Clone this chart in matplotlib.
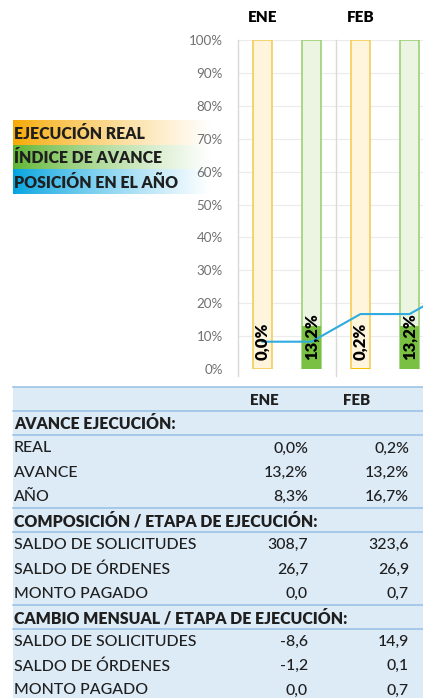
import numpy as np
import matplotlib
matplotlib.use('Agg')
import matplotlib.pyplot as plt
from matplotlib.patches import Rectangle
from matplotlib.transforms import offset_copy

plt.rcParams['font.family'] = ['Lato', 'DejaVu Sans']

# data
months = ['ENE', 'FEB']
real = [0.0, 0.2]
avance = [13.2, 13.2]
# third value is the next month, only seen as the line leaving the chart
posicion = [8.3, 16.7, 25.0]

comp_labels = ['SALDO DE SOLICITUDES', 'SALDO DE ÓRDENES', 'MONTO PAGADO']
composicion_ene = [308.7, 26.7, 0.0]
composicion_feb = [323.6, 26.9, 0.7]
cambio_ene = [-8.6, -1.2, 0.0]
cambio_feb = [14.9, 0.1, 0.7]

legend_items = ['EJECUCIÓN REAL', 'ÍNDICE DE AVANCE', 'POSICIÓN EN EL AÑO']
legend_colors = ['#F7A800', '#5DB531', '#00A3E0']

W, H = 423, 698
TXT = '#1f1f1f'


def fmt(v, pct=False):
    s = f"{v:.1f}".replace('.', ',')
    return s + '%' if pct else s


fig = plt.figure(figsize=(W / 100, H / 100), dpi=100)
fig.patch.set_facecolor('white')

# background axes in pixel coordinates for legend and table
bg = fig.add_axes([0, 0, 1, 1])
bg.set_axis_off()

# legend: text on a colour-to-white gradient
for i, (label, col) in enumerate(zip(legend_items, legend_colors)):
    rgb = np.array(matplotlib.colors.to_rgb(col))
    t = np.linspace(0, 1, 200)[:, None] ** 0.8
    grad = rgb * (1 - t) + np.ones(3) * t
    top = 121 + i * 24.3
    bg.imshow(grad[None, :, :], extent=[13, 210, top + 24.3, top], aspect='auto',
              interpolation='bilinear', zorder=1)
    bg.text(14, top + 13, label, fontsize=11.4, fontweight='heavy', color=TXT,
            ha='left', va='center', zorder=2)

# table
row_h = 24.2
t_top = 387
rows = [('', months, 'head')]
rows.append(('AVANCE EJECUCIÓN:', None, 'bold'))
rows.append(('REAL', [fmt(v, True) for v in real], 'plain'))
rows.append(('AVANCE', [fmt(v, True) for v in avance], 'plain'))
rows.append(('AÑO', [fmt(v, True) for v in posicion[:2]], 'plain'))
rows.append(('COMPOSICIÓN / ETAPA DE EJECUCIÓN:', None, 'bold'))
for lab, a, b in zip(comp_labels, composicion_ene, composicion_feb):
    rows.append((lab, [fmt(a), fmt(b)], 'plain'))
rows.append(('CAMBIO MENSUAL / ETAPA DE EJECUCIÓN:', None, 'bold'))
for lab, a, b in zip(comp_labels, cambio_ene, cambio_feb):
    rows.append((lab, [fmt(a), fmt(b)], 'plain'))

bg.add_patch(Rectangle((13, t_top), W - 13, row_h * len(rows) + 10,
                       facecolor='#DDEBF7', edgecolor='none', zorder=1))
bg.plot([13, W], [t_top, t_top], color='#9DC3E6', lw=1.2, zorder=2)

col_right = [308, 409]
head_x = [264, 357]
for r, (label, vals, kind) in enumerate(rows):
    yc = t_top + row_h * (r + 0.5) + 1
    if kind == 'head':
        for x, m in zip(head_x, vals):
            bg.text(x, yc, m, fontsize=10.8, fontweight='heavy', color=TXT,
                    ha='center', va='center', zorder=3)
    else:
        bg.text(14, yc, label, fontsize=11.4,
                fontweight='heavy' if kind == 'bold' else 'medium',
                color=TXT, ha='left', va='center', zorder=3)
        if vals:
            for x, v in zip(col_right, vals):
                bg.text(x, yc, v, fontsize=11.4, fontweight='medium', color=TXT,
                        ha='right', va='center', zorder=3)
    # separator lines under header and around section titles
    nxt = rows[r + 1][2] if r + 1 < len(rows) else None
    if kind in ('head', 'bold') or nxt == 'bold':
        yl = t_top + row_h * (r + 1)
        bg.plot([13, W], [yl, yl], color='#9DC3E6', lw=1.2, zorder=2)

bg.set_xlim(0, W)
bg.set_ylim(H, 0)

# chart
x0, x1, y0, y1 = 238, 423, 369, 40
month_w = 98
ax = fig.add_axes([x0 / W, 1 - y0 / H, (x1 - x0) / W, (y0 - y1) / H])
ax.set_facecolor('none')
ax.set_xlim(0, (x1 - x0) / month_w)
ax.set_ylim(0, 100)
for s in ax.spines.values():
    s.set_visible(False)
ax.set_yticks(np.arange(0, 101, 10))
ax.set_yticklabels([f"{v}%" for v in range(0, 101, 10)])
ax.tick_params(axis='y', length=0, pad=11, labelsize=9.6, labelcolor='#707070')
ax.set_xticks([])
ax.yaxis.grid(True, color='#EBEBEB', lw=0.8)
ax.set_axisbelow(True)

for i in range(len(months) + 1):
    ax.plot([i, i], [-2, 100], color='#D9D9D9', lw=1, clip_on=False, zorder=1)

idx = np.arange(len(months))
yel_x = idx + 0.25
grn_x = idx + 0.75
bw = 0.2
ax.bar(yel_x, [100] * len(months), width=bw, color='#FFF5DC', edgecolor='#F2C94C', lw=1.1, zorder=2)
ax.bar(grn_x, [100] * len(months), width=bw, color='#EBF5E1', edgecolor='#94CE6E', lw=1.1, zorder=2)
ax.bar(yel_x, real, width=bw, color='#F5C000', zorder=3)
ax.bar(grn_x, avance, width=bw, color='#7AC143', zorder=3)

# position in the year, one flat step per month
pts = np.arange(len(posicion))
line_x = np.ravel(np.column_stack([pts + 0.25, pts + 0.75]))
line_y = np.repeat(posicion, 2)
ax.plot(line_x, line_y, color='#2EABDF', lw=1.5, zorder=4)

lbl_tr = offset_copy(ax.transData, fig=fig, x=0, y=9, units='dots')
for xs, vals in ((yel_x, real), (grn_x, avance)):
    for x, v in zip(xs, vals):
        ax.text(x, 0, fmt(v, True), transform=lbl_tr, rotation=90, ha='center',
                va='bottom', fontsize=12, fontweight='heavy', color='black', zorder=5)

for x, m in zip(yel_x, months):
    ax.text(x, 1 + (y1 - 17) / (y0 - y1), m, transform=ax.get_xaxis_transform(),
            ha='center', va='center', fontsize=11, fontweight='heavy', color='black')

fig.savefig('out.png', dpi=100)
